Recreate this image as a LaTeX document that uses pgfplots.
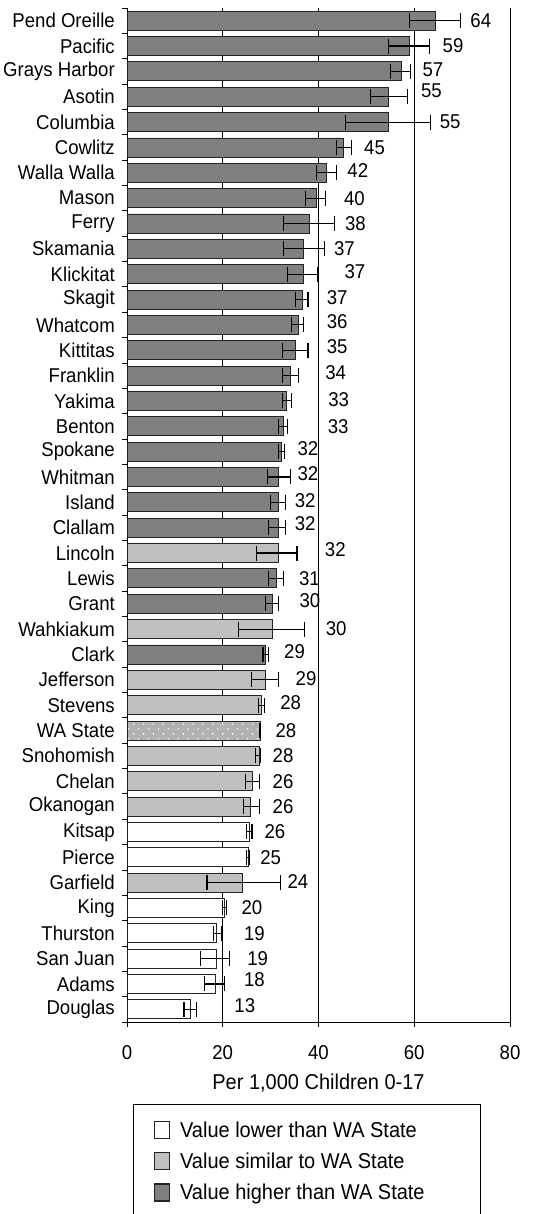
\documentclass[border=0pt]{standalone}
\usepackage{fontspec}
\setmainfont{Liberation Sans}[FakeStretch=0.93]
\usepackage{pgfplots}
\pgfplotsset{compat=1.18}
\usepackage{pgfplotstable}
\usetikzlibrary{patterns.meta}

\definecolor{higher}{RGB}{128,128,128}
\definecolor{similar}{RGB}{192,192,192}
\definecolor{lower}{RGB}{255,255,255}
\definecolor{statefill}{RGB}{178,178,178}
\definecolor{barline}{RGB}{35,35,35}

\newcommand{\ticksize}{\fontsize{20}{24}\selectfont}
\newcommand{\labelsize}{\fontsize{21.5}{26}\selectfont}

% idx = row (0 = top), val = rate, lo/hi = confidence interval,
% lx = left edge of the value label, dy = upward nudge of the label (pt)
\pgfplotstableread{
idx val  lo   hi   lx   dy
0   64.4 59.0 69.7 71.7 0
1   59.0 54.7 63.1 65.9 0
2   57.3 55.1 59.2 61.7 2
3   54.7 50.8 58.6 61.4 6
4   54.7 45.6 63.4 65.3 0
5   45.3 43.7 46.9 49.5 0
6   41.6 39.5 43.7 46.0 2
7   39.6 37.2 41.4 45.3 0
8   38.0 32.7 43.4 45.5 0
9   36.8 32.7 41.3 43.2 0
10  36.8 33.6 39.8 45.4 3
11  36.6 35.2 37.8 41.7 2
12  35.8 34.4 36.9 41.7 3
13  35.1 32.5 37.8 41.7 4
14  34.2 32.5 35.9 41.4 3
15  33.2 32.5 34.4 42.0 1
16  32.6 31.6 33.6 41.9 0
17  32.2 31.6 32.9 35.6 3
18  31.6 29.3 34.2 35.6 3
19  31.6 30.0 33.2 35.0 2
20  31.6 29.6 33.2 35.0 4
22  31.2 29.6 32.6 35.9 0
23  30.3 29.0 31.6 36.0 3
25  29.0 28.4 29.5 32.8 3
}\highertab

\pgfplotstableread{
idx val  lo   hi   lx   dy
21  31.6 27.1 35.5 41.3 3
24  30.3 23.2 37.0 41.5 0
26  29.0 26.0 31.6 35.2 1
27  28.0 27.5 28.7 32.0 3
29  27.6 26.9 27.9 30.4 0
30  26.2 24.8 27.7 30.4 0
31  25.8 24.3 27.7 30.4 0
34  24.2 16.7 32.0 33.5 1
}\similartab

\pgfplotstableread{
idx val  lo    hi    lx   dy
28  27.8 27.70 27.95 31.0 0
}\statetab

\pgfplotstableread{
idx val  lo   hi   lx   dy
32  25.6 24.9 26.1 28.7 0
33  25.3 25.0 25.5 27.8 0
35  20.3 20.0 20.7 23.9 0
36  18.7 18.0 19.8 24.4 0
37  18.6 15.4 21.4 25.1 0
38  18.4 16.1 20.4 24.4 4
39  13.2 11.9 14.5 22.4 4
}\lowertab

\pgfplotsset{
  squarelegend/.style={legend image code/.code={%
      \draw[##1, line width=1.6pt] (0pt,-8.5pt) rectangle (15pt,8.5pt);}},
  ratebar/.style={xbar, bar shift=0pt, bar width=19pt,
    draw=barline, line width=0.8pt, squarelegend,
    error bars/x dir=both, error bars/x explicit,
    error bars/error mark=-,
    error bars/error bar style={black, line width=1.1pt, solid},
    error bars/error mark options={black, rotate=90, mark size=7.5pt,
      line width=1.1pt}},
  ratelabels/.style={draw=none, forget plot, point meta=explicit,
    nodes near coords={\pgfmathprintnumber[fixed,precision=0]{\pgfplotspointmeta}},
    every node near coord/.style={anchor=west, inner sep=0pt,
      font=\ticksize, text=black}},
}

\begin{document}
\begin{tikzpicture}[x=1pt,y=1pt]
\useasboundingbox (0,0) rectangle (538,1214);
\begin{axis}[
  at={(127pt,192pt)}, anchor=south west,
  scale only axis, width=383pt, height=1014pt,
  xmin=0, xmax=80, ymin=-0.5, ymax=39.5, y dir=reverse,
  axis x line*=bottom, axis y line*=left,
  axis line style={black, line width=0.8pt},
  /pgf/number format/assume math mode=true,
  xtick={0,20,...,80},
  xmajorgrids, grid style={black, line width=0.7pt},
  tick align=outside, major tick length=5pt,
  tick style={black, line width=0.8pt},
  ytick={-0.5,0.5,...,39.5}, yticklabels={},
  extra y ticks={0,...,39},
  extra y tick style={major tick length=0pt, tick style={draw=none}},
  extra y tick labels={Pend Oreille, Pacific, Grays Harbor, Asotin, Columbia,
    Cowlitz, Walla Walla, Mason, Ferry, Skamania, Klickitat, Skagit, Whatcom,
    Kittitas, Franklin, Yakima, Benton, Spokane, Whitman, Island, Clallam,
    Lincoln, Lewis, Grant, Wahkiakum, Clark, Jefferson, Stevens, WA State,
    Snohomish, Chelan, Okanogan, Kitsap, Pierce, Garfield, King, Thurston,
    San Juan, Adams, Douglas},
  yticklabel style={font=\ticksize, anchor=east, inner sep=0pt, xshift=-12pt},
  xticklabel style={font=\ticksize, anchor=north, inner sep=0pt, yshift=-18pt},
  xlabel={Per 1,000 Children 0-17},
  xlabel style={font=\labelsize,
    at={(axis description cs:0.5,0)}, anchor=center, yshift=-61pt},
  legend cell align=left,
  legend style={at={(axis description cs:0.0157,-0.0809)}, anchor=north west,
    draw=black, line width=1pt, fill=white, font=\labelsize,
    inner xsep=20pt, inner ysep=15pt, row sep=10pt,
    /tikz/every odd column/.append style={column sep=8pt}},
]
\addplot[ratebar, fill=lower] table[x=val, y=idx,
  x error plus expr=\thisrow{hi}-\thisrow{val},
  x error minus expr=\thisrow{val}-\thisrow{lo}] {\lowertab};
\addlegendentry{\makebox[278pt][l]{Value lower than WA State}}
\addplot[ratebar, fill=similar] table[x=val, y=idx,
  x error plus expr=\thisrow{hi}-\thisrow{val},
  x error minus expr=\thisrow{val}-\thisrow{lo}] {\similartab};
\addlegendentry{\makebox[278pt][l]{Value similar to WA State}}
\addplot[ratebar, fill=higher] table[x=val, y=idx,
  x error plus expr=\thisrow{hi}-\thisrow{val},
  x error minus expr=\thisrow{val}-\thisrow{lo}] {\highertab};
\addlegendentry{\makebox[278pt][l]{Value higher than WA State}}
\addplot[ratebar, forget plot, fill=statefill,
  postaction={pattern={Dots[distance=7pt, radius=0.9pt, angle=45]},
    pattern color=white}] table[x=val, y=idx,
  x error plus expr=\thisrow{hi}-\thisrow{val},
  x error minus expr=\thisrow{val}-\thisrow{lo}] {\statetab};

\addplot[ratelabels] table[x=lx, y expr=\thisrow{idx}-\thisrow{dy}/25.35, meta=val] {\lowertab};
\addplot[ratelabels] table[x=lx, y expr=\thisrow{idx}-\thisrow{dy}/25.35, meta=val] {\similartab};
\addplot[ratelabels] table[x=lx, y expr=\thisrow{idx}-\thisrow{dy}/25.35, meta=val] {\highertab};
\addplot[ratelabels] table[x=lx, y expr=\thisrow{idx}-\thisrow{dy}/25.35, meta=val] {\statetab};
\end{axis}
\end{tikzpicture}
\end{document}
